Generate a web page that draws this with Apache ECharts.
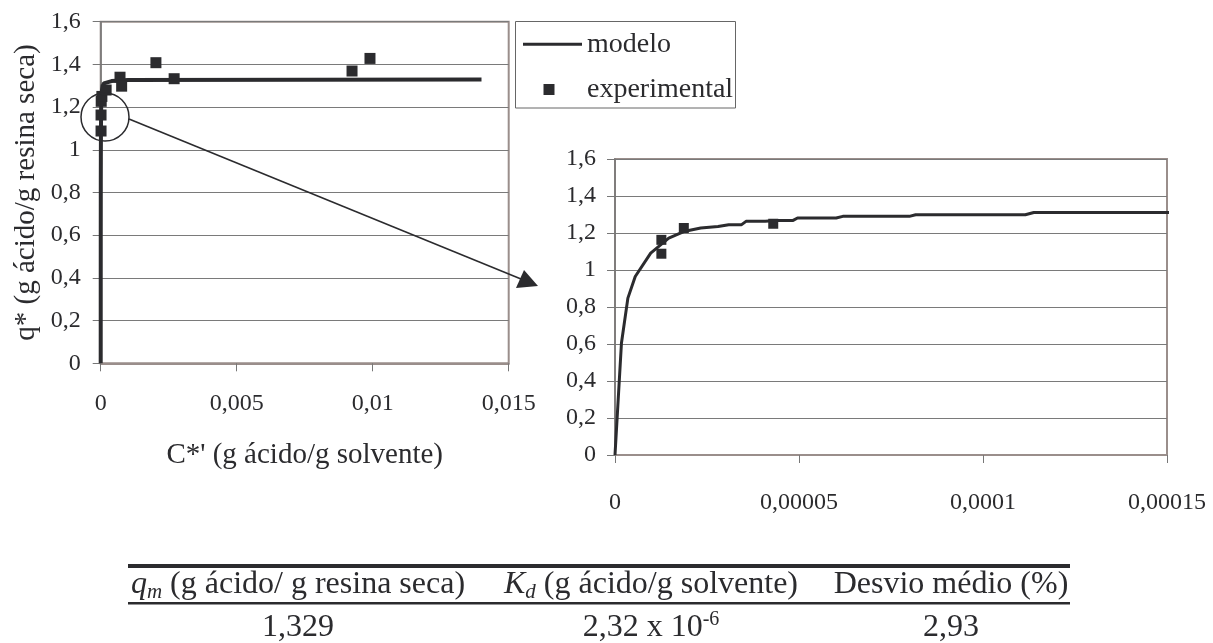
<!DOCTYPE html>
<html>
<head>
<meta charset="utf-8">
<script src="https://cdn.jsdelivr.net/npm/echarts@6/dist/echarts.min.js"></script>
<style>
  html, body { margin: 0; background: #fff; }
  #isoterma { width: 1213px; height: 643px; }
</style>
</head>
<body>
<div id="isoterma"></div>
<script>
// modelo (Langmuir)
const modelC = [0, 0.00000175, 0.0000035, 0.0000055, 0.0000097, 0.0000146, 0.0000187, 0.0000233,
  0.000028, 0.0000309, 0.0000344, 0.0000356, 0.0000408, 0.0000438, 0.0000484, 0.0000496,
  0.0000601, 0.0000619, 0.00008, 0.0000817, 0.0001115, 0.0001138, 0.000152, 0.0004, 0.001, 0.014];
const modelQ = [0, 0.604, 0.848, 0.965, 1.091, 1.172, 1.208, 1.227,
  1.235, 1.245, 1.245, 1.263, 1.263, 1.268, 1.268, 1.281,
  1.281, 1.29, 1.29, 1.299, 1.299, 1.311, 1.311, 1.322, 1.327, 1.329];

// pontos experimentais
const expC = [0.0000126, 0.0000126, 0.0000187, 0.000043, 0.0002, 0.00071, 0.00077, 0.00203, 0.0027, 0.00924, 0.0099];
const expQ = [1.163, 1.088, 1.227, 1.25, 1.28, 1.34, 1.298, 1.408, 1.333, 1.369, 1.428];

const zoomMaxC = 0.000152;

const tableHeaders = ["{i|q}{sub|m}{n| (g ácido/ g resina seca)}", "{i|K}{sub|d}{n| (g ácido/g solvente)}", "{n|Desvio médio (%)}"];
const tableValues = ["{n|1,329}", "{n|2,32 x 10}{sup|-6}", "{n|2,93}"];
const tableCols = [298, 651, 951];

const FONT = "Liberation Serif";
const INK = "#2b2b2e";

var chart = echarts.init(document.getElementById("isoterma"));

const pairs = (xs, ys) => xs.map((x, i) => [x, ys[i]]);
const fmt = (v) => String(+v.toPrecision(6)).replace(".", ",");

const modelAll = pairs(modelC, modelQ);
const modelZoom = modelAll.filter((p) => p[0] <= zoomMaxC);
const expAll = pairs(expC, expQ);

const richStyle = {
  n: { fontSize: 32, fontFamily: FONT, fill: INK, lineHeight: 36 },
  i: { fontSize: 32, fontFamily: FONT, fontStyle: "italic", fill: INK, lineHeight: 36 },
  sub: { fontSize: 21, fontFamily: FONT, fontStyle: "italic", fill: INK, lineHeight: 19, verticalAlign: "bottom" },
  sup: { fontSize: 20, fontFamily: FONT, fill: INK, lineHeight: 19, verticalAlign: "top" },
};

const axisText = { fontFamily: FONT, fontSize: 24, color: INK };
const splitLine = { show: true, lineStyle: { color: "#7a7a7a", width: 1 } };
const borderCol = "#9a8e8b";
const legendText = { fontFamily: FONT, fontSize: 28, color: INK, lineHeight: 30 };

let graphics = [
  // caixa da legenda
  { type: "rect", shape: { x: 515.5, y: 21.5, width: 220, height: 86.5 }, style: { fill: null, stroke: "#666", lineWidth: 1 } },
  // circulo de destaque e seta
  { type: "circle", shape: { cx: 105, cy: 117, r: 24 }, style: { fill: null, stroke: INK, lineWidth: 1.5 }, z: 10 },
  { type: "line", shape: { x1: 129, y1: 119, x2: 521, y2: 279 }, style: { stroke: INK, lineWidth: 1.6 }, z: 10 },
  { type: "polygon", shape: { points: [[538, 286], [516, 288], [524, 270]] }, style: { fill: INK }, z: 10 },
  // tabela
  { type: "rect", shape: { x: 128, y: 564, width: 942, height: 4 }, style: { fill: INK } },
  { type: "rect", shape: { x: 128, y: 602, width: 942, height: 2.5 }, style: { fill: INK } },
];
tableHeaders.forEach((t, i) => {
  graphics.push({ type: "text", style: { text: t, x: tableCols[i], y: 585, align: "center", verticalAlign: "middle", rich: richStyle } });
});
tableValues.forEach((t, i) => {
  graphics.push({ type: "text", style: { text: t, x: tableCols[i], y: 628, align: "center", verticalAlign: "middle", rich: richStyle } });
});

let option = {
  animation: false,
  textStyle: { fontFamily: FONT, color: INK },
  legend: [
    {
      left: 523, top: 29.3, data: [{ name: "modelo", icon: "rect" }],
      itemWidth: 59, itemHeight: 3, padding: 0,
      textStyle: legendText,
    },
    {
      left: 543.5, top: 74.5, data: [{ name: "experimental", icon: "rect" }],
      itemWidth: 11, itemHeight: 11, padding: 0,
      textStyle: Object.assign({ padding: [0, 0, 0, 27.5] }, legendText),
    },
  ],
  grid: [
    { left: 100.7, top: 21.7, width: 408, height: 341.6, show: true, borderColor: borderCol, borderWidth: 2, outerBoundsMode: "none" },
    { left: 615, top: 159, width: 552, height: 296, show: true, borderColor: borderCol, borderWidth: 2, outerBoundsMode: "none" },
  ],
  xAxis: [
    {
      gridIndex: 0, type: "value", min: 0, max: 0.015, interval: 0.005,
      name: "C*' (g ácido/g solvente)", nameLocation: "middle", nameGap: 78,
      nameTextStyle: { fontFamily: FONT, fontSize: 29, color: INK },
      axisLine: { show: true, lineStyle: { color: borderCol, width: 2 } },
      axisTick: { show: true, inside: false, length: 8, lineStyle: { color: "#777" } },
      axisLabel: Object.assign({ margin: 28, formatter: fmt }, axisText),
      splitLine: { show: false },
    },
    {
      gridIndex: 1, type: "value", min: 0, max: 0.00015, interval: 0.00005,
      axisLine: { show: true, lineStyle: { color: borderCol, width: 2 } },
      axisTick: { show: true, inside: false, length: 8, lineStyle: { color: "#777" } },
      axisLabel: Object.assign({ margin: 36, formatter: fmt }, axisText),
      splitLine: { show: false },
    },
  ],
  yAxis: [
    {
      gridIndex: 0, type: "value", min: 0, max: 1.6, interval: 0.2,
      name: "q* (g ácido/g resina seca)", nameLocation: "middle", nameGap: 60, nameRotate: 90,
      nameTextStyle: { fontFamily: FONT, fontSize: 29, color: INK },
      axisLine: { show: true, lineStyle: { color: "#777", width: 1.5 } },
      axisTick: { show: true, inside: false, length: 8, lineStyle: { color: "#777" } },
      axisLabel: Object.assign({ margin: 20, formatter: fmt }, axisText),
      splitLine: splitLine,
    },
    {
      gridIndex: 1, type: "value", min: 0, max: 1.6, interval: 0.2,
      axisLine: { show: true, lineStyle: { color: "#777", width: 1.5 } },
      axisTick: { show: true, inside: false, length: 8, lineStyle: { color: "#777" } },
      axisLabel: Object.assign({ margin: 19, formatter: fmt }, axisText),
      splitLine: splitLine,
    },
  ],
  series: [
    {
      name: "modelo", type: "line", xAxisIndex: 0, yAxisIndex: 0,
      data: modelAll, symbol: "none", clip: false,
      lineStyle: { color: INK, width: 4 }, itemStyle: { color: INK }, z: 3,
    },
    {
      name: "experimental", type: "scatter", xAxisIndex: 0, yAxisIndex: 0,
      data: expAll, symbol: "rect", symbolSize: 11,
      itemStyle: { color: INK, opacity: 1 }, z: 4,
    },
    {
      name: "modelo", type: "line", xAxisIndex: 1, yAxisIndex: 1,
      data: modelZoom, symbol: "none", clip: false,
      lineStyle: { color: INK, width: 3 }, itemStyle: { color: INK }, z: 3,
    },
    {
      name: "experimental", type: "scatter", xAxisIndex: 1, yAxisIndex: 1,
      data: expAll, symbol: "rect", symbolSize: 10,
      itemStyle: { color: INK, opacity: 1 }, z: 4,
    },
  ],
  graphic: graphics,
};
chart.setOption(option);
</script>
</body>
</html>
